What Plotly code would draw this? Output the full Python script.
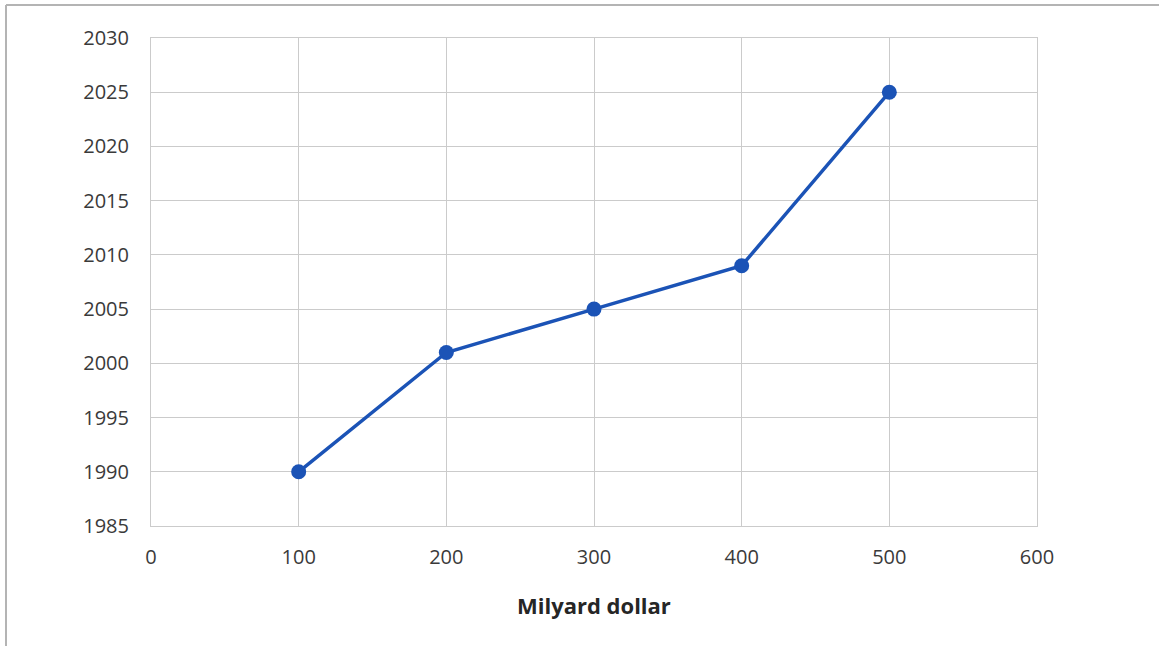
import plotly.graph_objects as go

# Spending (billion dollars) against year
spending = [100, 200, 300, 400, 500]
years = [1990, 2001, 2005, 2009, 2025]

x_ticks = [0, 100, 200, 300, 400, 500, 600]
y_ticks = [1985, 1990, 1995, 2000, 2005, 2010, 2015, 2020, 2025, 2030]

W, H = 1159, 646
L, R, T, B = 151, 1037, 38, 526
pw, ph = R - L, B - T

line_color = "#1b53b6"
grid_color = "#cbcbcb"
font_family = "Open Sans, Liberation Sans, sans-serif"

fig = go.Figure()
fig.add_trace(go.Scatter(
    x=spending, y=years, mode="lines+markers",
    line=dict(color=line_color, width=3.5),
    marker=dict(color=line_color, size=15),
    showlegend=False, hoverinfo="x+y",
))

axis_common = dict(
    showgrid=True, gridcolor=grid_color, gridwidth=1,
    showline=True, linecolor=grid_color, linewidth=1, mirror=True,
    zeroline=False, ticks="outside", tickcolor="rgba(0,0,0,0)",
    tickfont=dict(family=font_family, size=20, color="#3a3a3a"),
    fixedrange=True,
)

fig.update_xaxes(range=[0, 600], tickvals=x_ticks, ticktext=[str(v) for v in x_ticks],
                 ticklen=13, **axis_common)
fig.update_yaxes(range=[1985, 2030], tickvals=y_ticks, ticktext=[str(v) for v in y_ticks],
                 ticklen=17, **axis_common)

# Axis title below the chart
fig.add_annotation(
    text="<b>Milyard dollar</b>", xref="paper", yref="paper",
    x=0.5, y=-(605 - B) / ph, showarrow=False,
    font=dict(family=font_family, size=22, color="#262626"),
    xanchor="center", yanchor="middle",
)

# Outer frame: top and left edges
fig.add_shape(type="line", xref="paper", yref="paper",
              x0=(6 - L) / pw, x1=(W - L) / pw,
              y0=1 + (T - 5) / ph, y1=1 + (T - 5) / ph,
              line=dict(color="#b4b4b4", width=2))
fig.add_shape(type="line", xref="paper", yref="paper",
              x0=(6 - L) / pw, x1=(6 - L) / pw,
              y0=1 + (T - 5) / ph, y1=-(H - B) / ph,
              line=dict(color="#b4b4b4", width=2))

fig.update_layout(
    width=W, height=H,
    margin=dict(l=L, r=W - R, t=T, b=H - B, autoexpand=False),
    plot_bgcolor="white", paper_bgcolor="white",
)

fig.write_html("out.html", config={"displayModeBar": False})
